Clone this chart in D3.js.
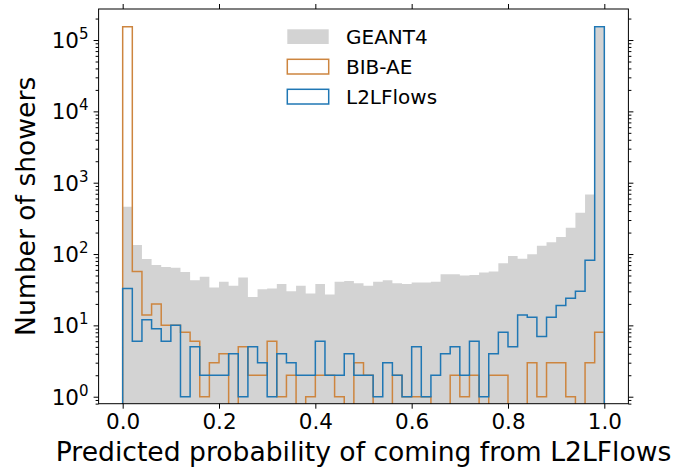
<!DOCTYPE html>
<html><head><meta charset="utf-8">
<script src="https://cdn.jsdelivr.net/npm/d3@7/dist/d3.min.js"></script>
<style>
body{margin:0;background:#fff}
svg{display:block}
text{font-family:"DejaVu Sans",sans-serif;fill:#000}
</style>
</head><body>
<svg id="c" width="673" height="470"></svg>
<script>
// ---- data ----
const binEdges = [0,0.02,0.04,0.06,0.08,0.1,0.12,0.14,0.16,0.18,0.2,0.22,0.24,0.26,0.28,0.3,0.32,0.34,0.36,0.38,0.4,0.42,0.44,0.46,0.48,0.5,0.52,0.54,0.56,0.58,0.6,0.62,0.64,0.66,0.68,0.7,0.72,0.74,0.76,0.78,0.8,0.82,0.84,0.86,0.88,0.9,0.92,0.94,0.96,0.98,1.0];
const geant4 = [460,134,85,70,66,64,56,43,48,34,41,36,47,25,32,33,38,30,36,28,38,27,41,42,39,36,41,43,39,38,40,40,41,52,52,50,51,55,57,74,94,86,99,131,146,174,234,380,685,150000];
const bibae = [153000,57,14,20,10,10,8,6,1,3,4,0,5,2,2,6,1,2,0,1,2,2,1,0,3,2,0,0,2,1,1,1,0,0,2,1,2,0,2,2,0,0,3,1,3,3,1,0,3,8];
const l2lflows = [33,6,12,9,6,10,1,5,2,2,2,4,1,5,3,1,4,3,2,2,6,2,2,4,2,2,1,3,2,1,5,1,2,4,5,2,6,1,4,8,5,14,13,7,13,19,24,30,82,153000];
const seriesNames = ["GEANT4","BIB-AE","L2LFlows"];
const xTicks = [0,0.2,0.4,0.6,0.8,1.0];
const xTickLabels = ["0.0","0.2","0.4","0.6","0.8","1.0"];
const yTicks = [1,10,100,1000,10000,100000];
const yTickExp = ["0","1","2","3","4","5"];
const xLabel = "Predicted probability of coming from L2LFlows";
const yLabel = "Number of showers";

// ---- layout ----
const L = 98.6, R = 628.4, T = 9, B = 403.7;
const svg = d3.select("#c");
const x = d3.scaleLinear().domain([-0.05, 1.05]).range([L, R]);
const y = d3.scaleLog().domain([Math.pow(10,-0.098), Math.pow(10,5.435)]).range([B, T]);

svg.append("defs").append("clipPath").attr("id","clip")
  .append("rect").attr("x",L).attr("y",T).attr("width",R-L).attr("height",B-T);

const yv = v => v > 0 ? y(v) : B + 4;
function stepPath(vals){
  const p = d3.path();
  p.moveTo(x(binEdges[0]), B + 4);
  vals.forEach((v,i)=>{
    p.lineTo(x(binEdges[i]), yv(v));
    p.lineTo(x(binEdges[i+1]), yv(v));
  });
  p.lineTo(x(binEdges[vals.length]), B + 4);
  return p.toString();
}

const g = svg.append("g").attr("clip-path","url(#clip)");
g.append("path").attr("d", stepPath(geant4) + "Z").attr("fill","#d3d3d3").attr("stroke","none");
g.append("path").attr("d", stepPath(bibae)).attr("fill","none").attr("stroke","#cd853f").attr("stroke-width",1.5).attr("stroke-linejoin","miter");
g.append("path").attr("d", stepPath(l2lflows)).attr("fill","none").attr("stroke","#1f77b4").attr("stroke-width",1.5).attr("stroke-linejoin","miter");

// ---- axes ----
const tickStyle = sel => { sel.select(".domain").remove(); sel.selectAll("line").attr("stroke","#000").attr("stroke-width",1); };
svg.append("g").attr("transform",`translate(0,${B})`)
  .call(d3.axisBottom(x).tickValues(xTicks).tickSize(5).tickFormat((d,i)=>xTickLabels[i]))
  .call(tickStyle)
  .call(s=>s.selectAll("text").attr("font-size",21.5).attr("dy",null).attr("y",25).attr("font-family","DejaVu Sans"));
svg.append("g").attr("transform",`translate(0,${T})`)
  .call(d3.axisTop(x).tickValues(xTicks).tickSize(5).tickFormat(""))
  .call(tickStyle);

const minors = [];
for (let e=-1;e<=5;e++) for (let m=2;m<=9;m++){ const v=m*Math.pow(10,e); if (v>y.domain()[0] && v<y.domain()[1]) minors.push(v); }
svg.append("g").attr("transform",`translate(${L},0)`)
  .call(d3.axisLeft(y).tickValues(minors).tickSize(3).tickFormat("")).call(tickStyle);
svg.append("g").attr("transform",`translate(${L},0)`)
  .call(d3.axisLeft(y).tickValues(yTicks).tickSize(5).tickFormat("")).call(tickStyle);
svg.append("g").attr("transform",`translate(${R},0)`)
  .call(d3.axisRight(y).tickValues(minors).tickSize(3).tickFormat("")).call(tickStyle);
svg.append("g").attr("transform",`translate(${R},0)`)
  .call(d3.axisRight(y).tickValues(yTicks).tickSize(5).tickFormat("")).call(tickStyle);

yTicks.forEach((v,i)=>{
  const t = svg.append("text").attr("x", L-10).attr("y", y(v)+8).attr("text-anchor","end").attr("font-size",21.5);
  t.append("tspan").text("10");
  t.append("tspan").attr("font-size",15).attr("dy",-9).text(yTickExp[i]);
});

svg.append("rect").attr("x",L).attr("y",T).attr("width",R-L).attr("height",B-T)
  .attr("fill","none").attr("stroke","#000").attr("stroke-width",1);

svg.append("text").attr("x",(L+R)/2).attr("y",461).attr("text-anchor","middle").attr("font-size",26.6).text(xLabel);
svg.append("text").attr("transform",`translate(35,${(T+B)/2}) rotate(-90)`).attr("text-anchor","middle").attr("font-size",26.6).text(yLabel);

const leg = svg.append("g");
const legY = [29.3, 59.3, 89.3];
leg.append("rect").attr("x",287.3).attr("y",legY[0]).attr("width",41.4).attr("height",14.7).attr("fill","#d3d3d3");
leg.append("rect").attr("x",287.3).attr("y",legY[1]).attr("width",41.4).attr("height",14.7).attr("fill","none").attr("stroke","#cd853f").attr("stroke-width",1.5);
leg.append("rect").attr("x",287.3).attr("y",legY[2]).attr("width",41.4).attr("height",14.7).attr("fill","none").attr("stroke","#1f77b4").attr("stroke-width",1.5);
seriesNames.forEach((n,i)=>{
  leg.append("text").attr("x",346).attr("y",legY[i]+14.3).attr("font-size",20).text(n);
});
</script>
</body></html>
